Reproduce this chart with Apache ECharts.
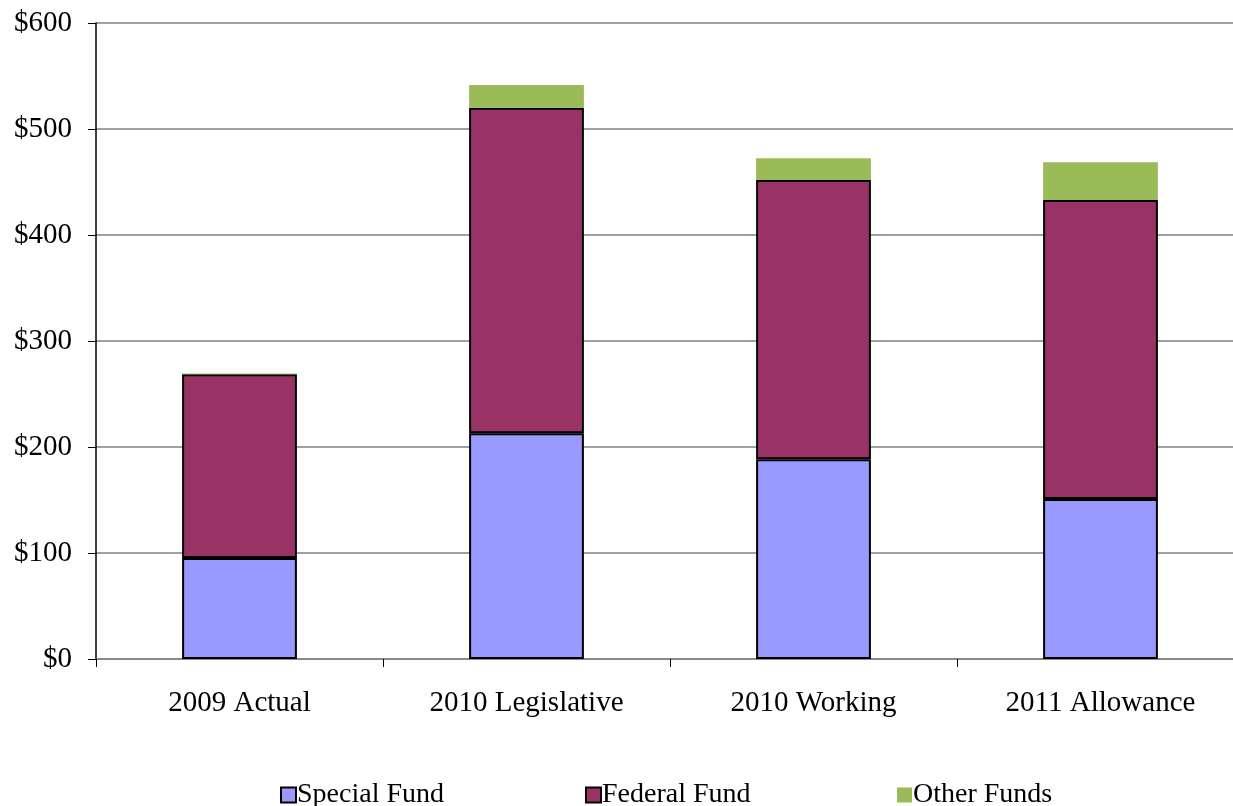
<!DOCTYPE html>
<html>
<head>
<meta charset="utf-8">
<script src="https://cdn.jsdelivr.net/npm/echarts@6/dist/echarts.min.js"></script>
<style>
html,body{margin:0;padding:0;background:#fff;overflow:hidden;}
#chart{width:1233px;height:806px;}
</style>
</head>
<body>
<div id="chart"></div>
<script>
const categories = ['2009 Actual', '2010 Legislative', '2010 Working', '2011 Allowance'];
const specialFund = [95.3, 213.0, 188.5, 151.0];
const federalFund = [173.3, 307.0, 263.5, 282.0];
const otherFunds = [0.8, 21.5, 20.5, 35.6];
const yTicks = [0, 100, 200, 300, 400, 500, 600];
const seriesNames = ['Special Fund', 'Federal Fund', 'Other Funds'];

const font = '"Liberation Serif", "Times New Roman", serif';
const legendLefts = [280, 585, 897];
const chart = echarts.init(document.getElementById('chart'));
chart.setOption({
  animation: false,
  textStyle: { fontFamily: font },
  grid: { left: 96, width: 1148, top: 23, height: 636, containLabel: false, outerBoundsMode: 'none' },
  legend: seriesNames.map((n, i) => ({
    data: [n],
    left: legendLefts[i], top: 781, padding: 0,
    itemWidth: 15, itemHeight: 15,
    textStyle: { fontFamily: font, fontSize: 28, color: '#000', padding: [0, 0, 0, -4] },
    icon: 'rect'
  })),
  xAxis: {
    type: 'category',
    data: categories,
    axisLine: { show: true, lineStyle: { color: '#808080', width: 1.5 } },
    axisTick: { show: true, length: 8, lineStyle: { color: '#000', width: 1 } },
    axisLabel: { fontFamily: font, fontSize: 29, color: '#000', margin: 30 },
    splitLine: { show: false }
  },
  yAxis: {
    type: 'value',
    min: yTicks[0], max: yTicks[yTicks.length - 1], interval: 100,
    axisLine: { show: true, lineStyle: { color: '#000', width: 1.5 } },
    axisTick: { show: true, length: 8, lineStyle: { color: '#000' } },
    axisLabel: { fontFamily: font, fontSize: 29, color: '#000', margin: 24, formatter: v => '$' + v },
    splitLine: { show: true, lineStyle: { color: '#808080', width: 1.5 } }
  },
  series: [
    {
      name: seriesNames[0], type: 'bar', stack: 'total', data: specialFund, barWidth: '40%',
      itemStyle: { color: '#9999ff', borderColor: '#000', borderWidth: 2 }
    },
    {
      name: seriesNames[1], type: 'bar', stack: 'total', data: federalFund, barWidth: '40%',
      itemStyle: { color: '#993366', borderColor: '#000', borderWidth: 2 }
    },
    {
      name: seriesNames[2], type: 'bar', stack: 'total', data: otherFunds, barWidth: '40%',
      itemStyle: { color: '#9bbb59', borderWidth: 0 }
    }
  ]
});
</script>
</body>
</html>
